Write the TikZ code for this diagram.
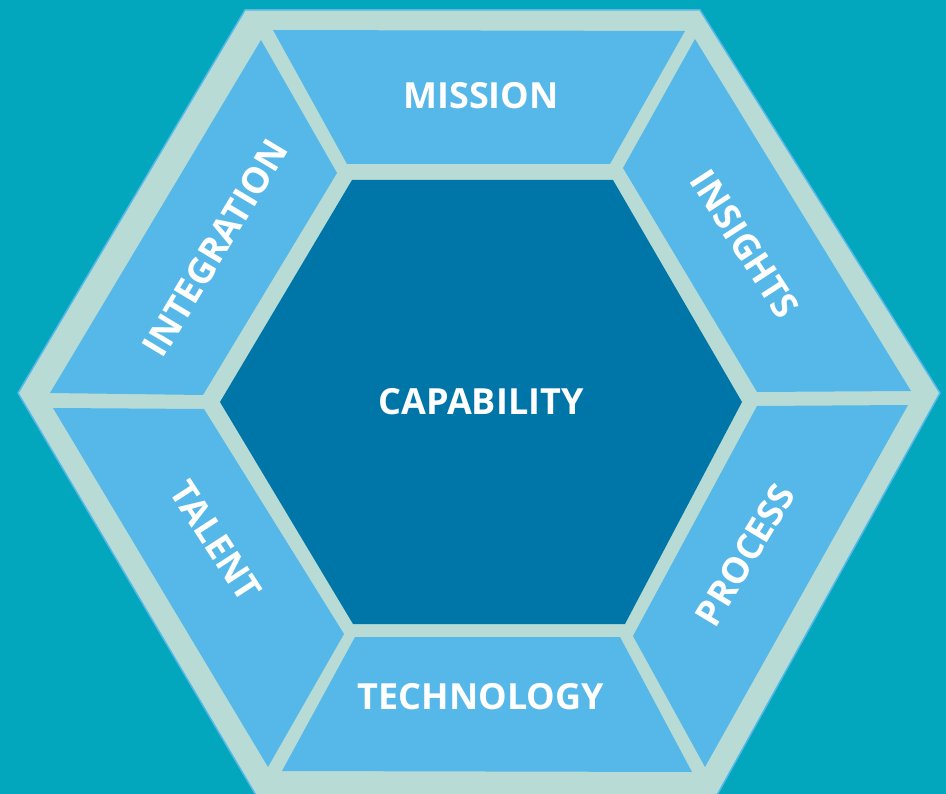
\documentclass[tikz,border=0pt]{standalone}
\usepackage{fontspec}
\setmainfont{Open Sans}
\definecolor{bgteal}{HTML}{02A7BD}
\definecolor{mint}{HTML}{B8DCD5}
\definecolor{segblue}{HTML}{55B8E8}
\definecolor{darkblue}{HTML}{0076A8}
\tikzset{
  seg/.style={fill=segblue},
  lbl/.style={text=white, font=\fontsize{36}{40}\selectfont\bfseries, inner sep=0pt, anchor=center}
}
\begin{document}
\begin{tikzpicture}[x=1pt,y=-1pt]
\useasboundingbox (0,0) rectangle (946,794);
\fill[bgteal] (0,0) rectangle (946,794);
\clip (0,0) rectangle (946,794);
% outer ring
\fill[mint, draw=segblue, line width=1.5pt] (245,10)--(700,10)--(940,393)--(716,797)--(257,797)--(18,393)--cycle;
% segments
\fill[seg] (273,30)--(685,31)--(610,164)--(347,164)--cycle;        % mission
\fill[seg] (695,39)--(911,391)--(757,392)--(623,168)--cycle;       % insights
\fill[seg] (908,405)--(705,767)--(633,636)--(757,406)--cycle;      % process
\fill[seg] (355,637)--(620,637)--(692,772)--(282,771)--cycle;      % technology
\fill[seg] (53,408)--(204,409)--(344,634)--(268,767)--cycle;       % talent
\fill[seg] (261,40)--(337,173)--(203,395)--(50,393)--cycle;        % integration
% core
\fill[darkblue] (352,180)--(613,180)--(742,402)--(625,624)--(353,624)--(220,402)--cycle;
% labels
\node[lbl] (cap) at (481,402) {CAPABILITY};
\node[lbl] (mis) at (481,96) {MISSION};
\node[lbl] (tec) at (481,697) {TECHNOLOGY};
\node[lbl, rotate=59] (int) at (215,248) {INTEGRATION};
\node[lbl, rotate=-57] (ins) at (745,244) {INSIGHTS};
\node[lbl, rotate=-57] (tal) at (216,541) {TALENT};
\node[lbl, rotate=59] (pro) at (745,555) {PROCESS};
\end{tikzpicture}
\end{document}
